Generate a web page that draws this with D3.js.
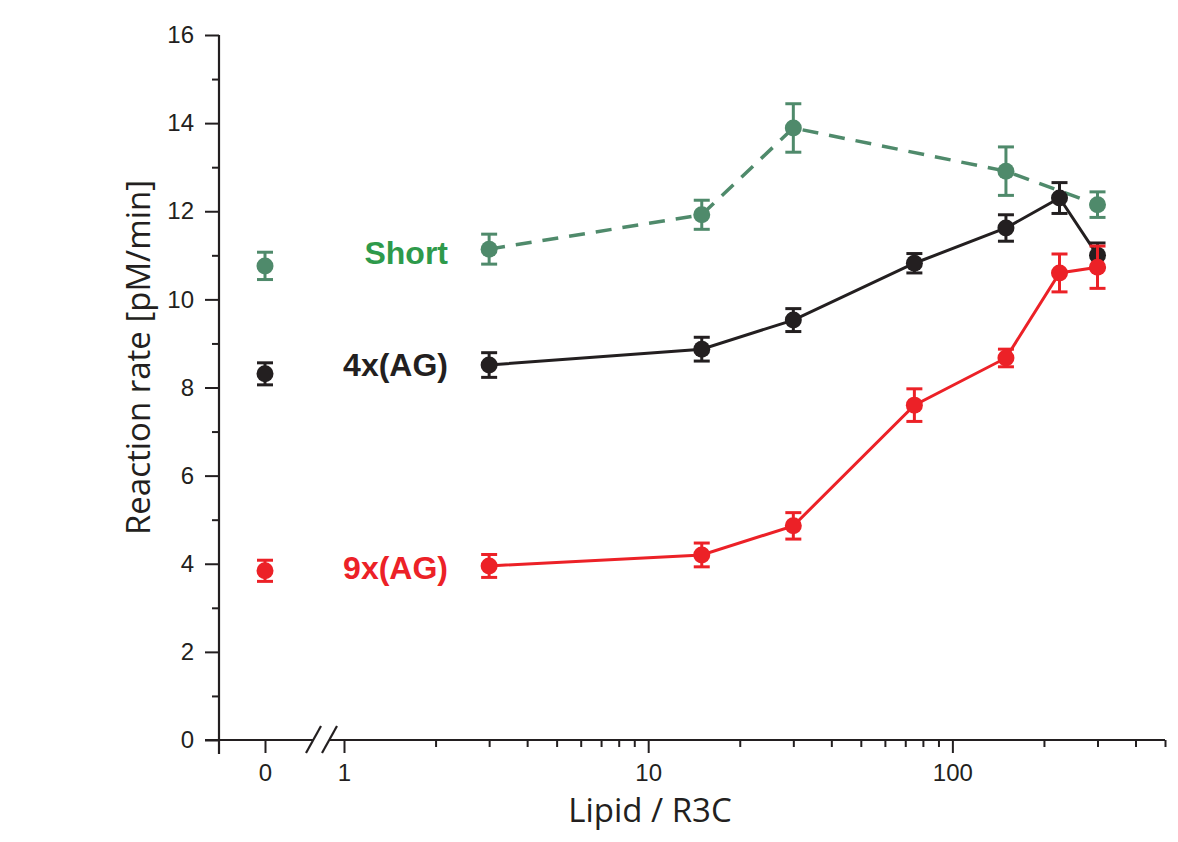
<!DOCTYPE html>
<html>
<head>
<meta charset="utf-8">
<script src="https://cdn.jsdelivr.net/npm/d3@7"></script>
<style>
  body { margin: 0; background: #fff; }
  .axistext { font-family: "Open Sans", sans-serif; font-size: 33px; fill: #231f20; }
  .serieslabel { font-family: "Liberation Sans", Arial, sans-serif; font-size: 32px; font-weight: bold; }
</style>
</head>
<body>
<div id="chart"></div>
<script>
// data
var lipidRatio = [0, 3, 15, 30, 75, 150, 225, 300];
var shortRate = [10.76, 11.14, 11.92, 13.89, null, 12.91, null, 12.15];
var shortErr  = [0.31, 0.34, 0.33, 0.55, null, 0.55, null, 0.29];
var ag4Rate   = [8.31, 8.51, 8.87, 9.53, 10.82, 11.62, 12.30, 11.00];
var ag4Err    = [0.25, 0.28, 0.27, 0.26, 0.22, 0.30, 0.35, 0.28];
var ag9Rate   = [3.84, 3.95, 4.20, 4.86, 7.60, 8.67, 10.60, 10.73];
var ag9Err    = [0.24, 0.26, 0.27, 0.30, 0.37, 0.20, 0.43, 0.48];
var yTicks = [0, 2, 4, 6, 8, 10, 12, 14, 16];
var yMinorTicks = [1, 3, 5, 7, 9, 11, 13, 15];
var xTicks = [1, 10, 100];
var xMinorTicks = [2, 3, 4, 5, 6, 7, 8, 9, 20, 30, 40, 50, 60, 70, 80, 90, 200, 300, 400, 500];

var series = [
  { name: "Short", rate: shortRate, err: shortErr, color: "#4f8a6b", labelColor: "#2e9a4b", dash: "16,11", labelShift: 4 },
  { name: "4x(AG)", rate: ag4Rate, err: ag4Err, color: "#231f20", labelColor: "#231f20", dash: null, labelShift: 0 },
  { name: "9x(AG)", rate: ag9Rate, err: ag9Err, color: "#ec2127", labelColor: "#ec2127", dash: null, labelShift: 2 }
];

var svgWidth = 1178;
var svgHeight = 842;
var axisX = 219;

var svg = d3.select("#chart").append("svg")
  .attr("width", svgWidth)
  .attr("height", svgHeight);

// scales: small linear piece for 0, log piece from 1 to 500
var yScale = d3.scaleLinear().domain([0, 16]).range([740, 35]);
var xZero = d3.scaleLinear().domain([-1, 1]).range([axisX, 311]);
var xLog = d3.scaleLog().domain([1, 500]).range([344, 1165]);
function xPos(v) { return v === 0 ? xZero(0) : xLog(v); }

var y0 = yScale(0);

// y axis
var yAxis = svg.append("g").attr("transform", `translate(${axisX},0)`)
  .call(d3.axisLeft(yScale).tickValues(yTicks).tickSize(14).tickPadding(11));
yAxis.append("g")
  .call(d3.axisLeft(yScale).tickValues(yMinorTicks).tickSize(7).tickFormat(""));

// x axis, zero part
var xAxisZero = svg.append("g").attr("transform", `translate(0,${y0})`)
  .call(d3.axisBottom(xZero).tickValues([0]).tickSize(13).tickPadding(11).tickFormat(d3.format("d")));
// x axis, log part
var xAxisLog = svg.append("g").attr("transform", `translate(0,${y0})`)
  .call(d3.axisBottom(xLog).tickValues(xTicks).tickSize(13).tickPadding(11).tickFormat(d3.format("d")));
xAxisLog.append("g")
  .call(d3.axisBottom(xLog).tickValues(xMinorTicks).tickSize(7).tickFormat(""));
svg.selectAll(".domain").remove();
svg.selectAll("line").attr("stroke", "#231f20").attr("stroke-width", 2);
svg.selectAll(".tick text")
  .attr("font-family", "'Liberation Sans', Arial, sans-serif")
  .attr("font-size", 24)
  .attr("fill", "#231f20");

// axis lines drawn by hand for the crossing and the break
var axisLines = svg.append("g").attr("stroke", "#231f20").attr("stroke-width", 2.2);
axisLines.append("line")
  .attr("x1", axisX).attr("x2", axisX)
  .attr("y1", yScale(16)).attr("y2", y0 + 14);
axisLines.append("line")
  .attr("x1", axisX - 14).attr("x2", 313)
  .attr("y1", y0).attr("y2", y0);
axisLines.append("line")
  .attr("x1", 329).attr("x2", xLog(500))
  .attr("y1", y0).attr("y2", y0);
[306, 322].forEach(bx => {
  axisLines.append("line")
    .attr("x1", bx).attr("y1", y0 + 13)
    .attr("x2", bx + 15).attr("y2", y0 - 14);
});

// axis titles
svg.append("text")
  .attr("class", "axistext")
  .attr("transform", `translate(150, ${(yScale(0) + yScale(16)) / 2 - 30}) rotate(-90)`)
  .attr("text-anchor", "middle")
  .text("Reaction rate [pM/min]");
svg.append("text")
  .attr("class", "axistext")
  .attr("x", 650)
  .attr("y", 822)
  .attr("text-anchor", "middle")
  .text("Lipid / R3C");

// plot series
series.forEach(s => {
  var pts = lipidRatio.map((x, i) => ({ x: x, y: s.rate[i], e: s.err[i] }))
    .filter(d => d.y !== null);
  var g = svg.append("g");

  var line = d3.line().x(d => xPos(d.x)).y(d => yScale(d.y));
  g.append("path")
    .datum(pts.filter(d => d.x > 0))
    .attr("d", line)
    .attr("fill", "none")
    .attr("stroke", s.color)
    .attr("stroke-width", s.dash ? 3.5 : 3)
    .attr("stroke-dasharray", s.dash);

  var bars = g.selectAll(".err").data(pts).enter().append("g")
    .attr("stroke", s.color)
    .attr("stroke-width", 3);
  bars.append("line")
    .attr("x1", d => xPos(d.x)).attr("x2", d => xPos(d.x))
    .attr("y1", d => yScale(d.y - d.e)).attr("y2", d => yScale(d.y + d.e));
  bars.append("line")
    .attr("x1", d => xPos(d.x) - 8).attr("x2", d => xPos(d.x) + 8)
    .attr("y1", d => yScale(d.y + d.e)).attr("y2", d => yScale(d.y + d.e));
  bars.append("line")
    .attr("x1", d => xPos(d.x) - 8).attr("x2", d => xPos(d.x) + 8)
    .attr("y1", d => yScale(d.y - d.e)).attr("y2", d => yScale(d.y - d.e));

  g.selectAll("circle").data(pts).enter().append("circle")
    .attr("cx", d => xPos(d.x))
    .attr("cy", d => yScale(d.y))
    .attr("r", 8.5)
    .attr("fill", s.color);

  // series label left of the first log point
  g.append("text")
    .attr("class", "serieslabel")
    .attr("x", 448)
    .attr("y", yScale(s.rate[1]) + s.labelShift)
    .attr("dy", "0.35em")
    .attr("text-anchor", "end")
    .attr("fill", s.labelColor)
    .text(s.name);
});
</script>
</body>
</html>
